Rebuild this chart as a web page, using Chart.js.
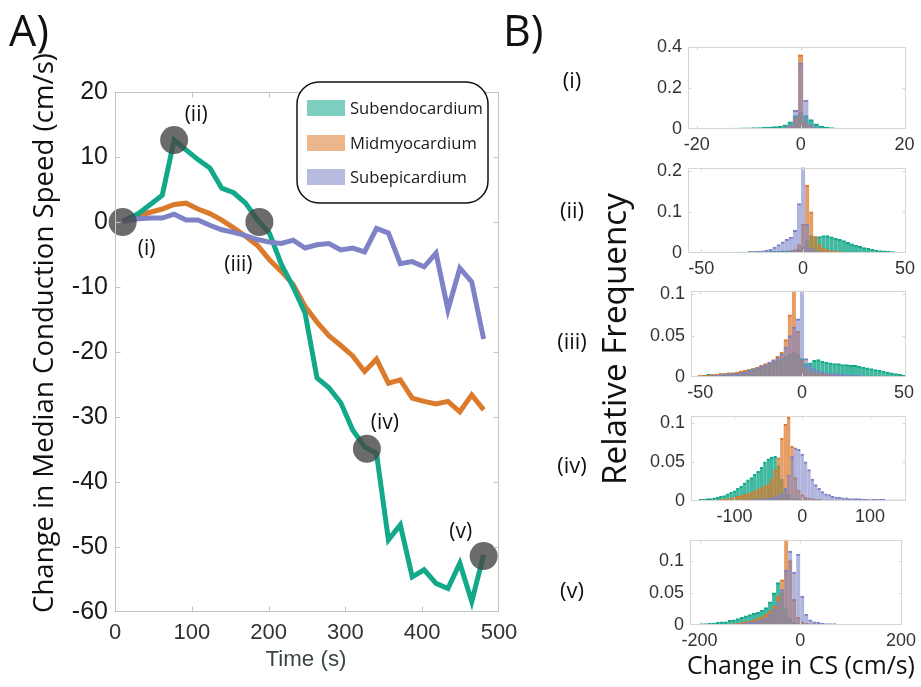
<!DOCTYPE html>
<html><head><meta charset="utf-8">
<script src="https://cdn.jsdelivr.net/npm/chart.js@4/dist/chart.umd.min.js"></script>
<style>
html,body{margin:0;padding:0;background:#fff;}
#wrap{position:relative;width:921px;height:687px;overflow:hidden;background:#fff;}
canvas{position:absolute;}
</style></head><body>
<div id="wrap">
<canvas id="cA" style="left:0;top:0" width="921" height="687"></canvas>
<canvas id="h0"></canvas><canvas id="h1"></canvas><canvas id="h2"></canvas><canvas id="h3"></canvas><canvas id="h4"></canvas>
</div>
<script>
// ---------------- DATA : panel A ----------------
const seriesNames = ['Subendocardium', 'Midmyocardium', 'Subepicardium'];
const times = [10, 30.5, 46, 61.5, 77, 92.5, 108, 123.5, 139, 154.5, 170, 185.5, 201, 216.5, 232, 247.5, 263, 278.5, 294, 309.5, 325, 340.5, 356, 371.5, 387, 402.5, 418, 433.5, 449, 464.5, 480];
const subendocardium = [0, 1.3, 2.7, 4.1, 12.6, 11.1, 9.6, 8.3, 5.2, 4.5, 2.9, 0.3, -1.7, -6.5, -10.0, -14.0, -24.0, -25.5, -27.8, -32.0, -34.6, -35.6, -48.9, -46.6, -54.6, -53.5, -55.6, -56.4, -52.5, -58.4, -51.2];
const midmyocardium = [0.2, 1.0, 1.5, 2.0, 2.7, 2.9, 2.0, 1.3, 0.3, -0.9, -2.2, -3.6, -5.8, -7.6, -9.6, -13.0, -15.4, -17.5, -19.0, -20.6, -23.0, -21.1, -24.8, -24.3, -27.1, -27.6, -28.0, -27.6, -29.2, -26.6, -28.9];
const subepicardium = [0.1, 0.5, 0.6, 0.6, 1.2, 0.3, 0.3, -0.5, -1.2, -1.6, -2.1, -2.7, -3.1, -3.3, -2.8, -4.0, -3.5, -3.3, -4.3, -4.0, -4.6, -1.0, -1.7, -6.4, -6.1, -6.9, -4.8, -13.5, -7.1, -9.2, -18.0];
const markerTimes = [10, 77, 188, 328, 480];
const markerValues = [0, 12.6, 0, -34.9, -51.4];
const markerLabels = ['(i)', '(ii)', '(iii)', '(iv)', '(v)'];
const timeTicks = [0, 100, 200, 300, 400, 500];
const speedTicks = [-60, -50, -40, -30, -20, -10, 0, 10, 20];

// ---------------- DATA : panel B histograms ----------------
const binsI = [-20,-19,-18,-17,-16,-15,-14,-13,-12,-11,-10,-9,-8,-7,-6,-5,-4,-3,-2,-1,0,1,2,3,4,5,6,7,8,9,10,11,12,13,14,15,16,17,18,19,20];
const subendoI = [0.002,0.002,0.002,0.002,0.003,0.003,0.003,0.004,0.004,0.005, 0.005,0.006,0.007,0.008,0.009,0.011,0.014,0.02,0.035,0.065, 0.08, 0.065,0.045,0.025,0.014,0.009,0.006,0.004,0.003,0.003,0.002, 0.002,0.002,0.002,0.001,0.001,0.001,0.001,0.001,0.001,0.001];
const midmyoI = [0.001,0.001,0.001,0.001,0.001,0.001,0.001,0.001,0.001,0.001, 0.001,0.001,0.001,0.001,0.001,0.002,0.003,0.006,0.015,0.05, 0.36, 0.03,0.008,0.003,0.002,0.001,0.001,0.001,0.001,0.001,0.001, 0.001,0.001,0.001,0.001,0.001,0.001,0.001,0.001,0.001,0.001];
const subepiI = [0.001,0.001,0.001,0.001,0.001,0.001,0.001,0.001,0.001,0.001, 0.001,0.001,0.001,0.001,0.001,0.002,0.003,0.006,0.02,0.09, 0.32, 0.14,0.02,0.006,0.003,0.002,0.001,0.001,0.001,0.001,0.001, 0.001,0.001,0.001,0.001,0.001,0.001,0.001,0.001,0.001,0.001];

const binsII = [-50,-48,-46,-44,-42,-40,-38,-36,-34,-32,-30,-28,-26,-24,-22,-20,-18,-16,-14,-12,-10,-8,-6,-4,-2,0,2,4,6,8,10,12,14,16,18,20,22,24,26,28,30,32,34,36,38,40,42,44,46,48,50];
const subendoII = [0.001,0.001,0.001,0.001,0.001,0.001,0.001,0.002,0.002,0.002, 0.002,0.002,0.003,0.003,0.003,0.003,0.003,0.004,0.004,0.004, 0.005,0.005,0.006,0.007,0.009, 0.014, 0.03,0.042,0.04,0.04,0.042,0.042,0.039,0.036,0.033,0.03, 0.026,0.022,0.019,0.016,0.013,0.011,0.009,0.007,0.006,0.005, 0.004,0.003,0.002,0.002,0.001];
const midmyoII = [0.001,0.001,0.001,0.001,0.001,0.001,0.001,0.001,0.001,0.001, 0.001,0.001,0.001,0.001,0.001,0.001,0.001,0.001,0.001,0.001, 0.001,0.002,0.004,0.008,0.02, 0.07, 0.165,0.1,0.04,0.02,0.011,0.007,0.005,0.004,0.003,0.002, 0.002,0.002,0.001,0.001,0.001,0.001,0.001,0.001,0.001,0.001, 0.001,0.001,0.001,0.001,0.001];
const subepiII = [0.001,0.001,0.001,0.001,0.001,0.001,0.001,0.001,0.001,0.001, 0.002,0.002,0.003,0.003,0.004,0.005,0.007,0.009,0.014,0.02, 0.027,0.033,0.038,0.055,0.12, 0.21, 0.07,0.012,0.005,0.003,0.002,0.001,0.001,0.001,0.001,0.001, 0.001,0.001,0.001,0.001,0.001,0.001,0.001,0.001,0.001,0.001, 0.001,0.001,0.001,0.001,0.001];

const binsIII = [-50,-48,-46,-44,-42,-40,-38,-36,-34,-32,-30,-28,-26,-24,-22,-20,-18,-16,-14,-12,-10,-8,-6,-4,-2,0,2,4,6,8,10,12,14,16,18,20,22,24,26,28,30,32,34,36,38,40,42,44,46,48,50];
const subendoIII = [0.002,0.002,0.003,0.003,0.003,0.004,0.004,0.005,0.005,0.006, 0.007,0.008,0.009,0.01,0.011,0.012,0.014,0.016,0.018,0.02, 0.022,0.025,0.028,0.03,0.028, 0.022, 0.016,0.017,0.02,0.021,0.019,0.018,0.017,0.016,0.016,0.015, 0.015,0.014,0.014,0.013,0.012,0.011,0.01,0.009,0.008,0.007, 0.006,0.005,0.004,0.003,0.002];
const midmyoIII = [0.002,0.002,0.002,0.003,0.003,0.004,0.004,0.005,0.005,0.006, 0.007,0.008,0.009,0.01,0.012,0.014,0.016,0.018,0.021,0.025, 0.03,0.045,0.075,0.11,0.055, 0.02, 0.01,0.006,0.005,0.004,0.003,0.003,0.003,0.002,0.002,0.002, 0.001,0.001,0.001,0.001,0.001,0.001,0.001,0.001,0.001,0.001, 0.001,0.001,0.001,0.001,0.001];
const subepiIII = [0.001,0.001,0.001,0.002,0.002,0.002,0.003,0.003,0.004,0.004, 0.005,0.006,0.008,0.009,0.011,0.013,0.015,0.018,0.02,0.023, 0.028,0.036,0.05,0.06,0.07, 0.11, 0.022,0.014,0.01,0.008,0.006,0.005,0.004,0.004,0.003,0.003, 0.002,0.002,0.002,0.002,0.001,0.001,0.001,0.001,0.001,0.001, 0.001,0.001,0.001,0.001,0.001];

const binsIV = [-150,-145,-140,-135,-130,-125,-120,-115,-110,-105,-100,-95,-90,-85,-80,-75,-70,-65,-60,-55,-50,-45,-40,-35,-30,-25,-20,-15,-10,-5,0,5,10,15,20,25,30,35,40,45,50,55,60,65,70,75,80,85,90,95,100,105,110,115,120,125,130,135,140,145,150];
const subendoIV = [0.002,0.002,0.003,0.003,0.004,0.005,0.006,0.007,0.009,0.011, 0.013,0.016,0.019,0.023,0.027,0.03,0.034,0.038,0.043,0.05, 0.054,0.056,0.057,0.045,0.028,0.015,0.008,0.004,0.003,0.002, 0.002, 0.001,0.001,0.001,0.001,0.001,0.001,0.001,0.001,0.001,0.001, 0.001,0.001,0.001,0.001,0.001,0.001,0.001,0.001,0.001,0.001, 0.001,0.001,0.001,0.001,0.001,0.001,0.001,0.001,0.001,0.001];
const midmyoIV = [0.001,0.001,0.001,0.001,0.001,0.001,0.002,0.002,0.003,0.003, 0.005,0.006,0.007,0.008,0.009,0.011,0.013,0.015,0.017,0.019, 0.022,0.028,0.04,0.055,0.08,0.098,0.107,0.07,0.03,0.014, 0.008, 0.005,0.004,0.003,0.002,0.002,0.001,0.001,0.001,0.001,0.001, 0.001,0.001,0.001,0.001,0.001,0.001,0.001,0.001,0.001,0.001, 0.001,0.001,0.001,0.001,0.001,0.001,0.001,0.001,0.001,0.001];
const subepiIV = [0.001,0.001,0.001,0.001,0.001,0.001,0.001,0.001,0.001,0.001, 0.001,0.001,0.001,0.001,0.001,0.001,0.002,0.002,0.002,0.003, 0.003,0.004,0.005,0.007,0.01,0.016,0.033,0.057,0.068,0.066, 0.06, 0.05,0.04,0.028,0.021,0.016,0.012,0.009,0.008,0.006,0.005, 0.005,0.004,0.004,0.003,0.003,0.003,0.003,0.002,0.002,0.002, 0.002,0.002,0.002,0.002,0.001,0.001,0.001,0.001,0.001,0.001];

const binsV = [-196,-188,-180,-172,-164,-156,-148,-140,-132,-124,-116,-108,-100,-92,-84,-76,-68,-60,-52,-44,-36,-28,-20,-12,-4,4,12,20,28,36,44,52,60,68,76,84,92,100,108,116,124,132,140,148,156,164,172,180,188,196];
const subendoV = [0.002,0.002,0.003,0.003,0.004,0.005,0.005,0.007,0.008,0.01, 0.012,0.014,0.016,0.018,0.02,0.023,0.027,0.036,0.05,0.066, 0.05,0.025,0.01,0.004,0.002,0.002,0.001,0.001,0.001,0.001, 0.001,0.001,0.001,0.001,0.001,0.001,0.001,0.001,0.001,0.001, 0.001,0.001,0.001,0.001,0.001,0.001,0.001,0.001,0.001,0.001];
const midmyoV = [0.001,0.001,0.001,0.001,0.001,0.001,0.001,0.001,0.002,0.003, 0.004,0.005,0.006,0.008,0.01,0.013,0.017,0.022,0.029,0.045, 0.07,0.14,0.1,0.04,0.012,0.005,0.003,0.002,0.002,0.001, 0.001,0.001,0.001,0.001,0.001,0.001,0.001,0.001,0.001,0.001, 0.001,0.001,0.001,0.001,0.001,0.001,0.001,0.001,0.001,0.001];
const subepiV = [0.001,0.001,0.001,0.001,0.001,0.001,0.001,0.001,0.001,0.002, 0.002,0.003,0.004,0.005,0.006,0.008,0.011,0.016,0.024,0.036, 0.055,0.085,0.115,0.082,0.11,0.045,0.017,0.008,0.005,0.004, 0.003,0.002,0.002,0.002,0.001,0.001,0.001,0.001,0.001,0.001, 0.001,0.001,0.001,0.001,0.001,0.001,0.001,0.001,0.001,0.001];

const histBins = [binsI, binsII, binsIII, binsIV, binsV];
const histSubendo = [subendoI, subendoII, subendoIII, subendoIV, subendoV];
const histMidmyo = [midmyoI, midmyoII, midmyoIII, midmyoIV, midmyoV];
const histSubepi = [subepiI, subepiII, subepiIII, subepiIV, subepiV];
const histXTicks = [[-20, 0, 20], [-50, 0, 50], [-50, 0, 50], [-100, 0, 100], [-200, 0, 200]];
const histYTicks = [[0, 0.2, 0.4], [0, 0.1, 0.2], [0, 0.05, 0.1], [0, 0.05, 0.1], [0, 0.05, 0.1]];
const histXRange = [[-21.7, 20.3], [-56.5, 50.5], [-54.5, 51], [-164, 153], [-219, 202]];
const histYMax = [0.4, 0.207, 0.104, 0.109, 0.1325];
const panelLabels = ['(i)', '(ii)', '(iii)', '(iv)', '(v)'];

histBins.forEach((b, k) => {
  [histSubendo[k], histMidmyo[k], histSubepi[k]].forEach((a, j) => {
    if (a.length !== b.length) throw new Error('length mismatch panel ' + k + ' series ' + j + ': ' + a.length + ' vs ' + b.length);
  });
});

// ---------------- STYLE ----------------
const baseRGB = [[18, 168, 138], [219, 122, 43], [125, 131, 198]];
const rgba = (c, a) => `rgba(${c[0]},${c[1]},${c[2]},${a})`;
const histBoxes = [
  {top: 44, bottom: 129, left: 688},
  {top: 165, bottom: 253, left: 688},
  {top: 288, bottom: 377, left: 691},
  {top: 413, bottom: 501, left: 691},
  {top: 537, bottom: 625, left: 690}
];
const histRight = 906;

const framePlugin = {
  id: 'frame',
  afterDatasetsDraw(chart, args, opts) {
    const {ctx, chartArea: a, scales: {x, y}} = chart;
    ctx.save();
    ctx.strokeStyle = opts.color;
    ctx.lineWidth = 1;
    const l = Math.round(a.left) + 0.5, t = Math.round(a.top) + 0.5, r = Math.round(a.right) - 0.5, b = Math.round(a.bottom) - 0.5;
    ctx.strokeRect(l, t, r - l, b - t);
    const L = opts.tickLen;
    ctx.beginPath();
    x.ticks.forEach(tk => {
      const px = Math.round(x.getPixelForValue(tk.value)) + 0.5;
      if (px <= l + 1 || px >= r - 1) return;
      ctx.moveTo(px, b); ctx.lineTo(px, b - L);
      ctx.moveTo(px, t); ctx.lineTo(px, t + L);
    });
    y.ticks.forEach(tk => {
      const py = Math.round(y.getPixelForValue(tk.value)) + 0.5;
      if (py <= t + 1 || py >= b - 1) return;
      ctx.moveTo(l, py); ctx.lineTo(l + L, py);
      ctx.moveTo(r, py); ctx.lineTo(r - L, py);
    });
    ctx.stroke();
    ctx.restore();
  }
};

function fitSize(ctx, text, family, target) {
  ctx.font = `100px "${family}"`;
  return 100 * target / ctx.measureText(text).width;
}

const textPlugin = {
  id: 'texts',
  afterDraw(chart) {
    const {ctx, scales: {x, y}} = chart;
    ctx.save();
    ctx.fillStyle = '#111';
    ctx.textAlign = 'left'; ctx.textBaseline = 'alphabetic';
    ctx.font = '43px "Open Sans"';
    ctx.fillText('A)', 9, 46);
    ctx.fillText('B)', 503, 46);
    const offs = [[24, 27], [22, -25], [-21, 43], [18, -26], [-23, -24]];
    ctx.font = '21px "Open Sans"';
    ctx.textAlign = 'center'; ctx.textBaseline = 'middle';
    markerLabels.forEach((lab, i) => {
      const px = x.getPixelForValue(markerTimes[i]), py = y.getPixelForValue(markerValues[i]);
      ctx.fillText(lab, px + offs[i][0], py + offs[i][1]);
    });
    const yt = 'Change in Median Conduction Speed (cm/s)';
    let s = fitSize(ctx, yt, 'Open Sans', 560);
    ctx.save();
    ctx.translate(45, 333); ctx.rotate(-Math.PI / 2);
    ctx.font = `${s}px "Open Sans"`;
    ctx.fillText(yt, 0, 0);
    ctx.restore();
    ctx.fillStyle = '#3a4646';
    s = fitSize(ctx, 'Time (s)', 'Liberation Sans', 81);
    ctx.font = `${s}px "Liberation Sans"`;
    ctx.fillText('Time (s)', 306, 660);
    ctx.fillStyle = '#111';
    // legend
    const lx = 297, ly = 82, lw = 191, lh = 121, rr = 22;
    ctx.beginPath();
    ctx.moveTo(lx + rr, ly); ctx.lineTo(lx + lw - rr, ly); ctx.arcTo(lx + lw, ly, lx + lw, ly + rr, rr);
    ctx.lineTo(lx + lw, ly + lh - rr); ctx.arcTo(lx + lw, ly + lh, lx + lw - rr, ly + lh, rr);
    ctx.lineTo(lx + rr, ly + lh); ctx.arcTo(lx, ly + lh, lx, ly + lh - rr, rr);
    ctx.lineTo(lx, ly + rr); ctx.arcTo(lx, ly, lx + rr, ly, rr);
    ctx.closePath();
    ctx.fillStyle = '#fff'; ctx.fill();
    ctx.strokeStyle = '#111'; ctx.lineWidth = 1.5; ctx.stroke();
    const rows = [108, 143, 177];
    ctx.textAlign = 'left'; ctx.textBaseline = 'middle';
    seriesNames.forEach((n, i) => {
      ctx.fillStyle = rgba(baseRGB[i], 0.55);
      ctx.fillRect(307, rows[i] - 8, 38, 16);
      ctx.fillStyle = '#1a1a1a';
      const fs = Math.min(17, fitSize(ctx, 'Subendocardium', 'Open Sans', 133));
      ctx.font = `${fs}px "Open Sans"`;
      ctx.fillText(n, 350, rows[i] + 1);
    });
    // panel B texts
    ctx.fillStyle = '#111';
    ctx.textAlign = 'center';
    ctx.font = '22px "Open Sans"';
    const ply = [82, 212, 343, 467, 592];
    panelLabels.forEach((lab, i) => ctx.fillText(lab, 572, ply[i]));
    s = fitSize(ctx, 'Relative Frequency', 'Open Sans', 292);
    ctx.save();
    ctx.translate(617, 339); ctx.rotate(-Math.PI / 2);
    ctx.font = `${s}px "Open Sans"`;
    ctx.fillText('Relative Frequency', 0, 0);
    ctx.restore();
    s = fitSize(ctx, 'Change in CS (cm/s)', 'Open Sans', 228);
    ctx.font = `${s}px "Open Sans"`;
    ctx.fillText('Change in CS (cm/s)', 801, 667);
    ctx.restore();
  }
};

// ---------------- PANEL A ----------------
const pts = arr => times.map((t, i) => ({x: t, y: arr[i]}));
new Chart(document.getElementById('cA'), {
  type: 'line',
  data: {
    datasets: [
      {label: 'markers', data: markerTimes.map((t, i) => ({x: t, y: markerValues[i]})), showLine: false,
       pointRadius: 14, pointBackgroundColor: 'rgba(70,70,70,0.8)', pointBorderWidth: 0, borderWidth: 0, clip: false, order: 0},
      {label: seriesNames[2], data: pts(subepicardium), borderColor: rgba(baseRGB[2], 1), borderWidth: 5, pointRadius: 0, tension: 0, order: 1},
      {label: seriesNames[0], data: pts(subendocardium), borderColor: rgba(baseRGB[0], 1), borderWidth: 5, pointRadius: 0, tension: 0, order: 2},
      {label: seriesNames[1], data: pts(midmyocardium), borderColor: rgba(baseRGB[1], 1), borderWidth: 5, pointRadius: 0, tension: 0, order: 3}
    ]
  },
  options: {
    responsive: false, animation: false, devicePixelRatio: 1,
    layout: {padding: {left: 0, top: 92, right: 422, bottom: 0}},
    plugins: {legend: {display: false}, tooltip: {enabled: false}, frame: {color: '#c4c4c4', tickLen: 5}},
    scales: {
      x: {type: 'linear', min: 0, max: 500,
          afterBuildTicks: s => { s.ticks = timeTicks.map(v => ({value: v})); },
          ticks: {callback: v => String(v), font: {family: 'Liberation Sans', size: 22}, color: '#333', padding: 8, maxRotation: 0, autoSkip: false},
          grid: {display: false, drawTicks: false}, border: {display: false},
          afterFit: s => { s.height = 75; }},
      y: {type: 'linear', min: -60, max: 20,
          afterBuildTicks: s => { s.ticks = speedTicks.map(v => ({value: v})); },
          ticks: {callback: v => String(v), font: {family: 'Liberation Sans', size: 25}, color: '#1a1a1a', padding: 7, autoSkip: false},
          grid: {display: false, drawTicks: false}, border: {display: false},
          afterFit: s => { s.width = 115; }}
    }
  },
  plugins: [framePlugin, textPlugin]
});

// ---------------- PANEL B ----------------
function makeHist(k) {
  const box = histBoxes[k];
  const cv = document.getElementById('h' + k);
  const padTop = 14, axisH = 30, left0 = 630;
  cv.width = 921 - left0;
  cv.height = box.bottom - box.top + padTop + axisH;
  cv.style.left = left0 + 'px';
  cv.style.top = (box.top - padTop) + 'px';
  const bins = histBins[k];
  const ds = (ci, vals, alpha, order) => ({
    label: seriesNames[ci], data: bins.map((x, i) => ({x, y: vals[i]})),
    backgroundColor: rgba(baseRGB[ci], alpha), borderColor: rgba(baseRGB[ci], 1),
    borderWidth: {top: 1.2, left: 0, right: 0, bottom: 0}, inflateAmount: 0.4,
    grouped: false, barPercentage: 1, categoryPercentage: 1, order
  });
  new Chart(cv, {
    type: 'bar',
    data: {datasets: [ds(2, histSubepi[k], 0.6, 1), ds(1, histMidmyo[k], 0.72, 2), ds(0, histSubendo[k], 0.8, 3)]},
    options: {
      responsive: false, animation: false, devicePixelRatio: 1,
      layout: {padding: {left: 0, top: padTop, right: 921 - histRight, bottom: 0}},
      plugins: {legend: {display: false}, tooltip: {enabled: false}, frame: {color: '#d6d6d6', tickLen: 3}},
      scales: {
        x: {type: 'linear', min: histXRange[k][0], max: histXRange[k][1], offset: false,
            afterBuildTicks: s => { s.ticks = histXTicks[k].map(v => ({value: v})); },
            ticks: {callback: v => String(v), font: {family: 'Liberation Sans', size: 18}, color: '#333', padding: 5, maxRotation: 0, autoSkip: false},
            grid: {display: false, drawTicks: false}, border: {display: false},
            afterFit: s => { s.height = axisH; }},
        y: {type: 'linear', min: 0, max: histYMax[k],
            afterBuildTicks: s => { s.ticks = histYTicks[k].map(v => ({value: v})); },
            ticks: {callback: v => String(v), font: {family: 'Liberation Sans', size: 18}, color: '#333', padding: 6, autoSkip: false},
            grid: {display: false, drawTicks: false}, border: {display: false},
            afterFit: s => { s.width = box.left - left0; }}
      }
    },
    plugins: [framePlugin]
  });
}
for (let k = 0; k < 5; k++) makeHist(k);
</script>
</body></html>
